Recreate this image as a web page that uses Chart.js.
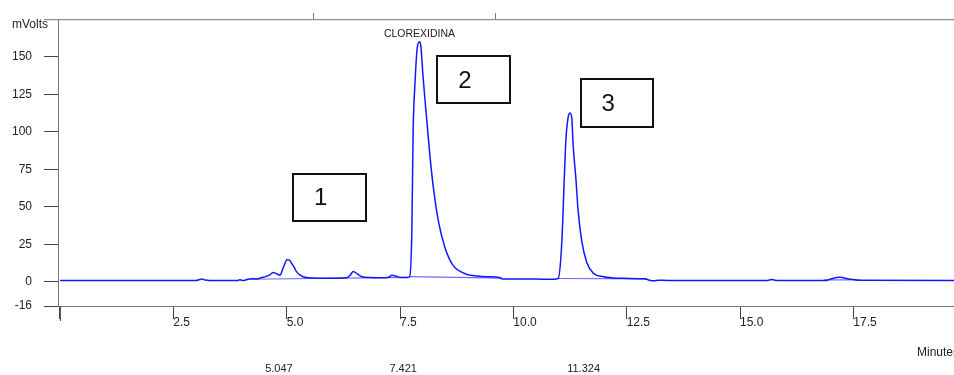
<!DOCTYPE html>
<html>
<head>
<meta charset="utf-8">
<script src="https://cdn.jsdelivr.net/npm/chart.js@4/dist/chart.umd.min.js"></script>
<style>
  html, body { margin: 0; padding: 0; background: #fff; }
  #wrap { width: 954px; height: 375px; }
</style>
</head>
<body>
<div id="wrap"><canvas id="chrom" width="954" height="375"></canvas></div>
<script>
// cromatograma: tiempo (min) y señal (mV)
const times = [0, 3.0, 3.08, 3.13, 3.2, 3.3, 3.9, 3.97, 4.05, 4.15, 4.23, 4.35, 4.45, 4.52, 4.62, 4.70, 4.78, 4.85, 4.93, 5.01, 5.06, 5.11, 5.17, 5.22, 5.3, 5.36, 5.5, 5.8, 6.1, 6.32, 6.4, 6.47, 6.55, 6.66, 6.84, 7.1, 7.25, 7.32, 7.4, 7.5, 7.65, 7.71, 7.76, 7.79, 7.83, 7.88, 7.93, 7.96, 8.01, 8.09, 8.16, 8.24, 8.35, 8.49, 8.67, 8.8, 8.98, 9.2, 9.42, 9.71, 9.75, 10.2, 10.7, 10.9, 10.99, 11.07, 11.12, 11.16, 11.21, 11.25, 11.29, 11.32, 11.38, 11.43, 11.51, 11.62, 11.76, 11.99, 12.42, 12.9, 13.0, 13.1, 13.2, 13.4, 15.6, 15.7, 15.8, 16.9, 17.0, 17.2, 17.4, 17.6, 19.72];
const mvolts = [1.0, 1.0, 1.6, 1.9, 1.3, 1.0, 1.0, 1.4, 1.0, 1.8, 2.2, 2.0, 3.0, 3.4, 4.5, 6.3, 5.5, 4.5, 10, 14.8, 14.5, 12.4, 9.5, 6.7, 4.5, 3.5, 2.8, 2.5, 2.5, 2.8, 4.5, 7, 5.5, 3.5, 3.0, 2.8, 3.2, 4.4, 4.0, 3.0, 3.0, 3.5, 32, 101, 132, 156, 160, 157, 136, 108, 84, 62, 40, 23, 11, 7.5, 5, 4.0, 3.5, 2.8, 2.0, 2.0, 1.8, 1.8, 2.4, 27, 66, 95, 110, 112.6, 109, 90.7, 68.7, 47, 27, 13, 6, 3.5, 2.4, 2.1, 1.2, 0.8, 1.2, 1.0, 1.0, 1.6, 1.0, 1.0, 2.0, 3.1, 2.0, 1.2, 1.0];

// líneas base de integración (segmentos)
const baseTimes = [4.1, 7.68, null, 7.71, 9.75, null, 10.97, 12.95, null, 16.85, 17.65];
const baseMvolts = [1.8, 3.0, null, 3.5, 2.6, null, 2.3, 2.0, null, 1.4, 1.4];

const xTicks = [0, 2.5, 5.0, 7.5, 10.0, 12.5, 15.0, 17.5];
const yTicks = [-16, 0, 25, 50, 75, 100, 125, 150];

const peakName = 'CLOREXIDINA';
const rtLabels = ['5.047', '7.421', '11.324'];
const rtAt = [4.83, 7.57, 11.55];

const boxLabels = ['1', '2', '3'];
const boxX0 = [5.14, 8.32, 11.49];
const boxX1 = [6.75, 9.93, 13.08];
const boxTop = [72.0, 150.2, 135.2];
const boxBottom = [40.7, 118.9, 103.3];

const topMarks = [5.58, 9.6];

const FONT = '"Liberation Sans", Arial, sans-serif';

const pts = times.map((t, i) => ({ x: t, y: mvolts[i] }));
const basePts = baseTimes.map((t, i) => ({ x: t, y: baseMvolts[i] }));

// textos, recuadros y marco
const extras = {
  id: 'extras',
  afterDraw(chart) {
    const ctx = chart.ctx;
    const xs = chart.scales.x, ys = chart.scales.y;
    const area = chart.chartArea;
    ctx.save();

    // línea superior
    ctx.strokeStyle = '#777';
    ctx.lineWidth = 1;
    ctx.beginPath();
    ctx.moveTo(44, area.top + 0.5);
    ctx.lineTo(area.right, area.top + 0.5);
    ctx.stroke();
    topMarks.forEach(t => {
      const px = Math.round(xs.getPixelForValue(t)) + 0.5;
      ctx.beginPath();
      ctx.moveTo(px, area.top - 6);
      ctx.lineTo(px, area.top);
      ctx.stroke();
    });

    // marca larga en 0
    ctx.strokeStyle = '#555';
    const x0 = Math.round(xs.getPixelForValue(0)) + 0.5;
    ctx.beginPath();
    ctx.moveTo(x0, area.bottom);
    ctx.lineTo(x0, area.bottom + 15);
    ctx.stroke();

    ctx.fillStyle = '#222';
    ctx.font = '12px ' + FONT;
    ctx.textBaseline = 'middle';
    ctx.textAlign = 'left';
    ctx.fillText('mVolts', 12, 25);
    ctx.fillText('Minutes', 917, 353);

    ctx.font = '11px ' + FONT;
    ctx.textAlign = 'center';
    rtLabels.forEach((lab, i) => {
      ctx.fillText(lab, xs.getPixelForValue(rtAt[i]), 369);
    });

    // nombre del pico mayor
    let imax = 0;
    mvolts.forEach((v, i) => { if (v > mvolts[imax]) imax = i; });
    ctx.font = '10.5px ' + FONT;
    ctx.fillText(peakName, xs.getPixelForValue(times[imax]), ys.getPixelForValue(mvolts[imax]) - 8);

    // recuadros numerados
    ctx.strokeStyle = '#111';
    ctx.lineWidth = 2;
    ctx.font = '24px ' + FONT;
    boxLabels.forEach((lab, i) => {
      const l = xs.getPixelForValue(boxX0[i]);
      const r = xs.getPixelForValue(boxX1[i]);
      const t = ys.getPixelForValue(boxTop[i]);
      const b = ys.getPixelForValue(boxBottom[i]);
      ctx.strokeRect(Math.round(l), Math.round(t), Math.round(r - l), Math.round(b - t));
      ctx.fillStyle = '#111';
      ctx.fillText(lab, l + (r - l) * 0.38, (t + b) / 2 + 1);
    });

    ctx.restore();
  }
};

new Chart(document.getElementById('chrom'), {
  type: 'line',
  data: {
    datasets: [
      {
        data: pts,
        borderColor: 'rgb(20,20,255)',
        borderWidth: 1.5,
        pointRadius: 0,
        cubicInterpolationMode: 'monotone',
        fill: false
      },
      {
        data: basePts,
        borderColor: 'rgba(70,70,255,0.8)',
        borderWidth: 1.2,
        pointRadius: 0,
        spanGaps: false,
        fill: false
      }
    ]
  },
  options: {
    responsive: false,
    animation: false,
    devicePixelRatio: 1,
    layout: { padding: { top: 13, left: 0, right: 0, bottom: 0 } },
    plugins: { legend: { display: false }, tooltip: { enabled: false } },
    scales: {
      x: {
        type: 'linear',
        min: -0.044,
        max: 19.72,
        afterBuildTicks: s => { s.ticks = xTicks.map(v => ({ value: v })); },
        afterFit: s => { s.height = 69; },
        grid: { drawOnChartArea: false, tickLength: 13, color: '#444' },
        border: { color: '#777', width: 1 },
        ticks: {
          align: 'start',
          padding: -4,
          color: '#222',
          font: { family: FONT, size: 12 },
          autoSkip: false,
          maxRotation: 0,
          callback: v => (v === 0 ? '' : v.toFixed(1))
        }
      },
      y: {
        min: -16,
        max: 175,
        afterBuildTicks: s => { s.ticks = yTicks.map(v => ({ value: v })); },
        afterFit: s => { s.width = 58; },
        grid: { drawOnChartArea: false, tickLength: 14, color: '#444' },
        border: { color: '#777', width: 1 },
        ticks: {
          padding: 12,
          color: '#222',
          font: { family: FONT, size: 12 },
          autoSkip: false,
          callback: v => String(v)
        }
      }
    }
  },
  plugins: [extras]
});
</script>
</body>
</html>
